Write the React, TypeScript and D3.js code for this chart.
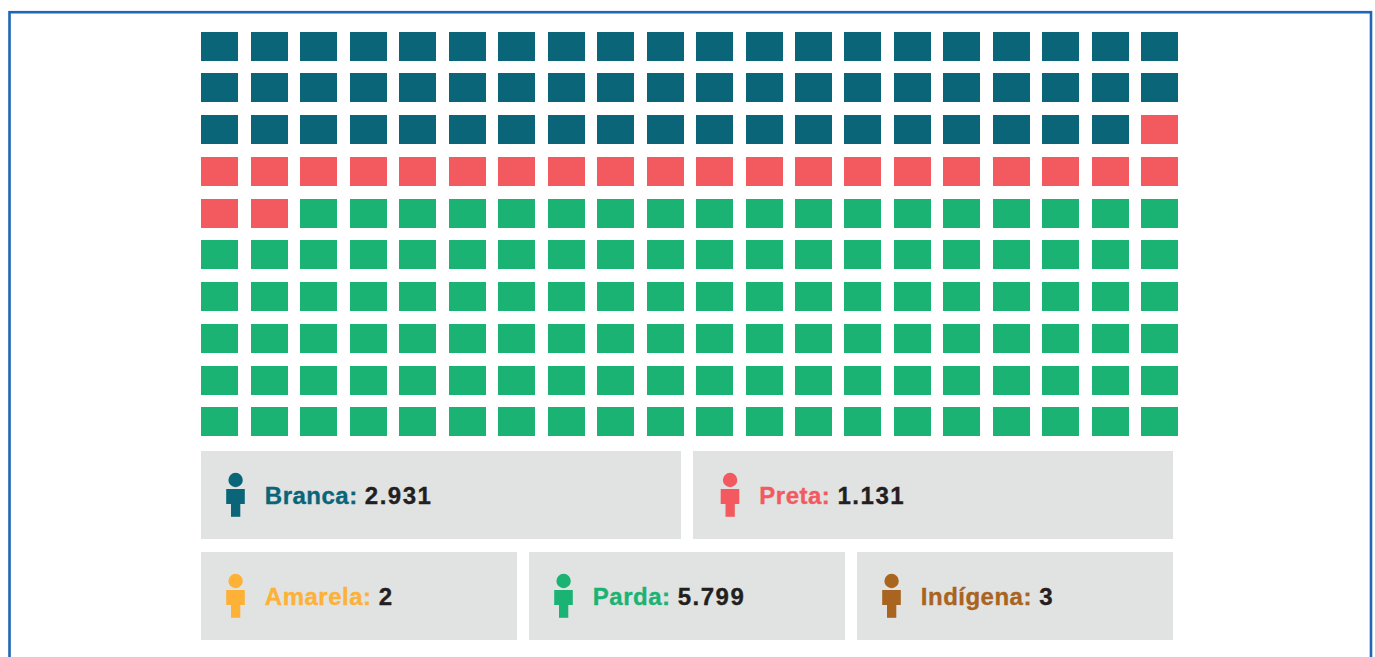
import React from "react";
import * as d3 from "d3";

const categories = ["Branca", "Preta", "Amarela", "Parda", "Indígena"];
const valueLabels = ["2.931", "1.131", "2", "5.799", "3"];
const cellCounts = [59, 23, 0, 118, 0];
const colors = ["#0b6579", "#f35a60", "#fdb137", "#1bb373", "#a96420"];
const panelRows = [[0, 1], [2, 3, 4]];
const COLS = 20;
const ROWS = 10;

const cells = categories.flatMap((_, i) => d3.range(cellCounts[i]).map(() => i));

const x = d3.scaleLinear().domain([0, COLS - 1]).range([201.06, 1141.465]);
const y = d3.scaleLinear().domain([0, ROWS - 1]).range([32.01, 407.76]);
const panelY = d3.scaleLinear().domain([0, 1]).range([451, 552]);
const CELL_W = 37;
const CELL_H = 29;
const PANEL_L = 201;
const PANEL_R = 1173;
const PANEL_GAP = 12;
const PANEL_H = 88;
const FONT = "'Liberation Sans', Arial, sans-serif";

function Panel({ idx, px, py, w }: { idx: number; px: number; py: number; w: number }) {
  const c = colors[idx];
  const inset = idx === 1 ? 2.5 : 0;
  return (
    <g transform={`translate(${px},${py})`}>
      <rect width={w} height={PANEL_H} fill="#e1e3e3" />
      <g transform={`translate(${inset},0)`}>
        <circle cx={34.6} cy={29} r={7.2} fill={c} />
        <rect x={25.2} y={38} width={18.6} height={15} fill={c} />
        <rect x={30} y={50} width={9.3} height={15.8} fill={c} />
        <text x={63.8} y={52.5} fontFamily={FONT} fontSize={24} fontWeight={700} strokeWidth={0.35}>
          <tspan fill={c} stroke={c} letterSpacing={0.5}>{categories[idx]}: </tspan>
          <tspan fill="#231f20" stroke="#231f20" letterSpacing={1.5}>{valueLabels[idx]}</tspan>
        </text>
      </g>
    </g>
  );
}

export default function App() {
  return (
    <svg width={1375} height={657} style={{ position: "absolute", left: 0, top: 0, display: "block" }}>
      <rect width={1375} height={657} fill="#fff" />
      <rect x={9.5} y={12.2} width={1361.5} height={800} fill="none" stroke="#1f66b5" strokeWidth={2.6} />
      {cells.map((cat, i) => (
        <rect
          key={i}
          x={Math.round(x(i % COLS))}
          y={Math.floor(y(Math.floor(i / COLS)))}
          width={CELL_W}
          height={CELL_H}
          fill={colors[cat]}
        />
      ))}
      {panelRows.map((row, r) => {
        const band = (PANEL_R - PANEL_L - PANEL_GAP * (row.length - 1)) / row.length;
        return row.map((idx, j) => (
          <Panel key={idx} idx={idx} px={PANEL_L + j * (band + PANEL_GAP)} py={panelY(r)} w={band} />
        ));
      })}
    </svg>
  );
}
